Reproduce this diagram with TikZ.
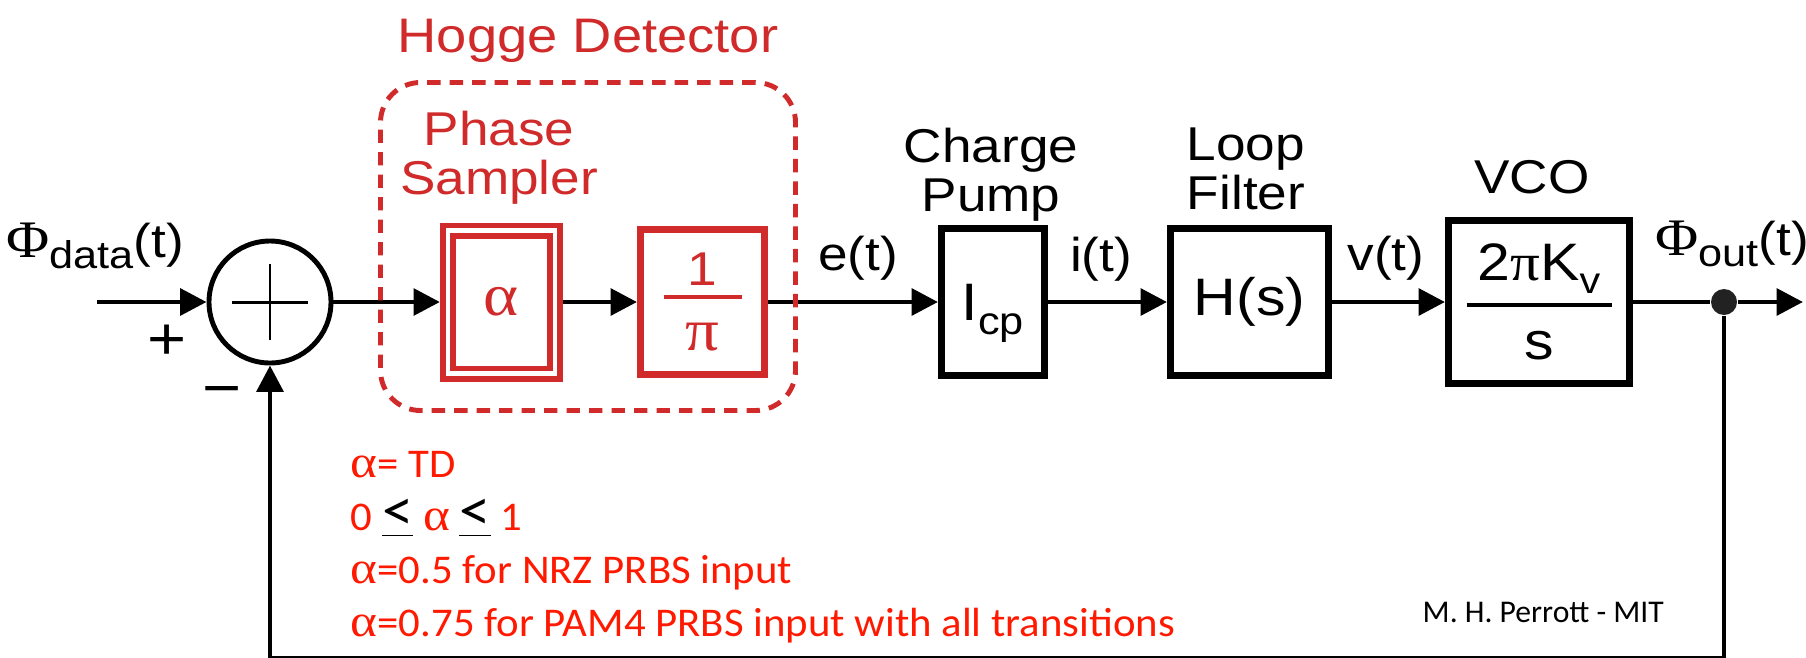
\documentclass[tikz,border=0pt]{standalone}
\usepackage{fontspec}
\setmainfont{Liberation Sans}[FakeStretch=1.12]
\newfontfamily\grk{Liberation Serif}[FakeStretch=1.12]
\newfontfamily\notefont{Carlito}[FakeStretch=1.05]
\newfontfamily\creditfont{Carlito}
\usepackage{tikz}
\usetikzlibrary{
    arrows.meta
}
\definecolor{hoggered}{RGB}{208,42,42}
\definecolor{notered}{RGB}{255,25,0}
\definecolor{dotgray}{RGB}{34,34,34}
% stacked fraction inside a block: bar width, bar thickness, top, bottom
\newcommand{\blockfrac}[4]{$\vcenter{\hbox to #1{\hss#3\hss}\kern2.8pt\hrule height #2\kern7pt\hbox to #1{\hss#4\hss}}$}
\newcommand{\uleq}{\textcolor{black}{\underline{\fontsize{17}{17}\selectfont <}}}
\tikzstyle{block} = [
    draw=black,
    line width=2pt,
    inner sep=0pt
]
\tikzstyle{redblock} = [
    block,
    draw=hoggered,
    text=hoggered
]
\tikzstyle{sumnode} = [
    circle,
    draw=black,
    line width=1.4pt,
    minimum size=1.22cm,
    inner sep=0pt
]
\tikzstyle{detbox} = [
    draw=hoggered,
    line width=1.4pt,
    dash pattern=on 3.8pt off 2.6pt,
    rounded corners=0.4cm,
    inner sep=0pt
]
\tikzstyle{arrow} = [
    -{Triangle[length=7.5pt,width=7.5pt]},
    line width=1.4pt
]
\tikzstyle{wire} = [
    line width=1.4pt
]
\tikzstyle{title} = [
    inner sep=0pt,
    align=center,
    anchor=north,
    font=\fontsize{13.5}{14}\selectfont
]
\tikzstyle{signal} = [
    inner sep=0pt,
    anchor=base,
    font=\fontsize{13.5}{14}\selectfont
]

\begin{document}
\begin{tikzpicture}
        \useasboundingbox (0,0) rectangle (18.06,6.57);

        % Summing junction and input
        \coordinate (in) at (0.97,3.55);
        \node[sumnode] (sum) at (2.70,3.55) {};
        \draw[line width=0.85pt] (sum.center) ++(-0.38,0) -- ++(0.76,0);
        \draw[line width=0.85pt] (sum.center) ++(0,-0.38) -- ++(0,0.76);
        \node[signal] (phidata) at (0.95,4.00) {{\grk\fontsize{15}{15}\selectfont Φ}\raisebox{-3.4pt}{\fontsize{11}{11}\selectfont data}(t)};
        \node[font=\fontsize{17}{17}\selectfont, inner sep=0pt] (plus) at (1.67,3.15) {+};
        \node[font=\fontsize{17}{17}\selectfont, inner sep=0pt] (minus) at (2.22,2.60) {−};

        % Phase sampler blocks (red)
        \node[redblock, double=white, double distance=1.15pt, line width=1.7pt, outer sep=2.3pt,
              minimum width=1.07cm, minimum height=1.43cm,
              font=\grk\fontsize{17}{17}\selectfont] (samp) at (5.015,3.55) {α};
        \node[redblock, minimum width=1.24cm, minimum height=1.45cm] (gain) at (7.025,3.55)
            {\blockfrac{0.78cm}{0.9pt}{\fontsize{13.5}{13.5}\selectfont 1}{\grk\fontsize{17}{17}\selectfont π}};

        % Charge pump, loop filter, VCO
        \node[block, minimum width=1.03cm, minimum height=1.47cm, text depth=0pt] (cp) at (9.93,3.55)
            {\fontsize{15}{15}\selectfont I\raisebox{-4pt}{\fontsize{11}{11}\selectfont cp}};
        \node[block, minimum width=1.58cm, minimum height=1.47cm,
              font=\fontsize{15}{15}\selectfont] (lf) at (12.495,3.55) {H(s)};
        \node[block, minimum width=1.81cm, minimum height=1.63cm] (vco) at (15.39,3.55)
            {\blockfrac{1.45cm}{1.1pt}{\fontsize{15}{15}\selectfont 2{\grk π}K\raisebox{-3.5pt}{\fontsize{10.5}{10.5}\selectfont v}}{\fontsize{15}{15}\selectfont s}};

        % Block titles
        \node[title, text=hoggered] (samptitle) at (4.99,5.47) {Phase\\Sampler};
        \node[title] (cptitle) at (9.91,5.30) {Charge\\Pump};
        \node[title] (lftitle) at (12.46,5.30) {Loop\\Filter};
        \node[signal] (vcotitle) at (15.32,4.64) {VCO};

        % Signal names
        \node[signal] (et) at (8.58,3.87) {e(t)};
        \node[signal] (it) at (11.01,3.86) {i(t)};
        \node[signal] (vt) at (13.86,3.87) {v(t)};
        \node[signal] (phiout) at (17.32,4.02) {{\grk\fontsize{15}{15}\selectfont Φ}\raisebox{-3.4pt}{\fontsize{11}{11}\selectfont out}(t)};

        % Output tap
        \node[circle, fill=dotgray, minimum size=0.26cm, inner sep=0pt] (out) at (17.24,3.55) {};
        \coordinate (outend) at (18.03,3.55);
        \coordinate (fb) at (17.24,-0.01);

        % Forward path
        \draw[arrow] (in) -- (sum);
        \draw[arrow] (sum) -- (samp);
        \draw[arrow] (samp) -- (gain);
        \draw[arrow] (gain) -- (cp);
        \draw[arrow] (cp) -- (lf);
        \draw[arrow] (lf) -- (vco);
        \draw[wire] (vco) -- (out);
        \draw[arrow] (out) -- (outend);

        % Feedback path
        \draw[arrow] (out) -- (fb) -| (sum);

        % Hogge detector frame (on top of the wires)
        \node[detbox, minimum width=4.15cm, minimum height=3.28cm] (hogge) at (5.88,4.105) {};
        \node[font=\fontsize{13.8}{14}\selectfont, text=hoggered, anchor=base, inner sep=0pt] (hoggetitle) at (5.88,6.05) {Hogge Detector};

        % Notes
        \node[anchor=north west, inner sep=0pt, align=left, text=notered,
              font=\notefont\fontsize{11.6}{15}\selectfont] (notes) at (3.50,2.06)
            {{\grk\fontsize{13}{13}\selectfont α}= TD\\
             0 \uleq{} {\grk\fontsize{13}{13}\selectfont α} \uleq{} 1\\
             {\grk\fontsize{13}{13}\selectfont α}=0.5 for NRZ PRBS input\\
             {\grk\fontsize{13}{13}\selectfont α}=0.75 for PAM4 PRBS input with all transitions};
        \node[anchor=base west, inner sep=0pt, font=\creditfont\fontsize{9}{9}\selectfont] (credit) at (14.22,0.35) {M. H. Perrott - MIT};
\end{tikzpicture}
\end{document}
